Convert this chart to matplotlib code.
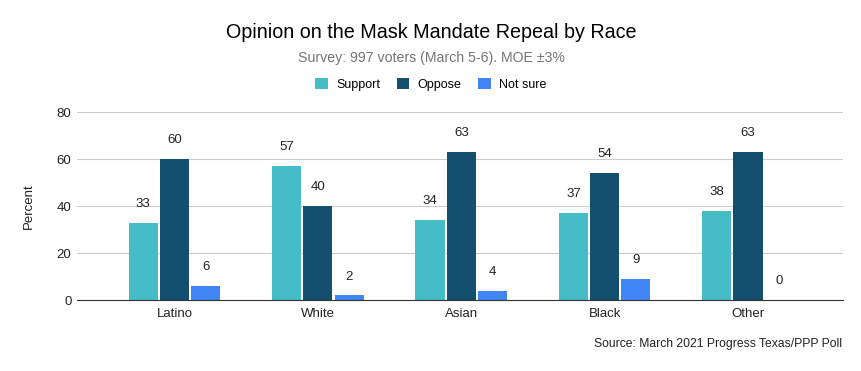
import matplotlib
matplotlib.use("Agg")
import matplotlib.pyplot as plt
import numpy as np

plt.rcParams["font.family"] = ["Liberation Sans", "DejaVu Sans"]

categories = ["Latino", "White", "Asian", "Black", "Other"]
support = [33, 57, 34, 37, 38]
oppose = [60, 40, 63, 54, 63]
not_sure = [6, 2, 4, 9, 0]
series = [("Support", support, "#46bdc6"),
          ("Oppose", oppose, "#134f6f"),
          ("Not sure", not_sure, "#4285f4")]

fig = plt.figure(figsize=(8.62, 3.71), dpi=100)
ax = fig.add_axes([0.0893, 0.191, 0.8886, 0.507])

x = np.arange(len(categories))
w = 0.203
for i, (name, vals, color) in enumerate(series):
    pos = x + (i - 1) * (w + 0.015)
    bars = ax.bar(pos, vals, w, color=color, label=name, zorder=3)
    for b, v in zip(bars, vals):
        ax.annotate(str(v), (b.get_x() + b.get_width() / 2, v),
                    xytext=(0, 13.5), textcoords="offset points",
                    ha="center", va="center", fontsize=9.5, color="#222222")

ax.set_xlim(-0.68, len(categories) - 1 + 0.662)
ax.set_ylim(0, 80)
ax.set_yticks([0, 20, 40, 60, 80])
ax.set_xticks(x)
ax.set_xticklabels(categories)
ax.tick_params(axis="both", length=0, labelsize=9.5, colors="#222222")
ax.tick_params(axis="y", pad=4)
ax.tick_params(axis="x", pad=6)
ax.grid(axis="y", color="#cccccc", linewidth=0.8, zorder=0)
for s in ["top", "right", "left"]:
    ax.spines[s].set_visible(False)
ax.spines["bottom"].set_color("#333333")
ax.spines["bottom"].set_zorder(4)
ax.set_ylabel("Percent", fontsize=9.5, color="#222222", labelpad=16)

fig.text(0.5, 0.913, "Opinion on the Mask Mandate Repeal by Race",
         ha="center", va="center", fontsize=14.2, color="#000000")
fig.text(0.5, 0.843, "Survey: 997 voters (March 5-6). MOE \u00b13%",
         ha="center", va="center", fontsize=10.2, color="#757575")
fig.legend(loc="center", bbox_to_anchor=(0.5, 0.773), ncol=3, frameon=False,
           fontsize=9, handlelength=1.0, handleheight=1.0, columnspacing=1.33,
           handletextpad=0.67)
fig.text(0.977, 0.073, "Source: March 2021 Progress Texas/PPP Poll",
         ha="right", va="center", fontsize=8.7, color="#222222")

fig.savefig("out.png", dpi=100)
